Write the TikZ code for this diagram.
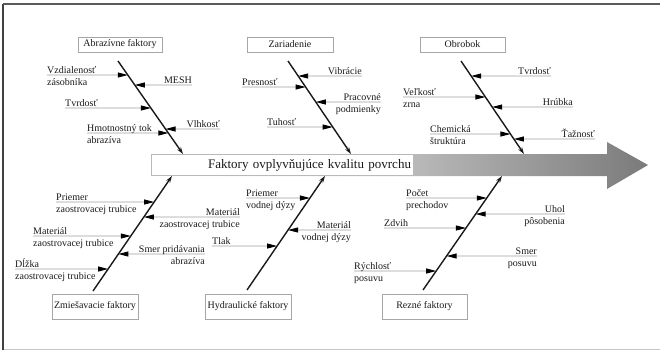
\documentclass[tikz,border=0pt]{standalone}
\usepackage{fontspec}
\setmainfont{Liberation Serif}
\usetikzlibrary{arrows.meta,calc}

\tikzset{
  catbox/.style={draw=gray!70, line width=0.8pt, fill=white, inner sep=0pt,
    font=\fontsize{10}{11}\selectfont, text=black!90},
  spine/.style={line width=1.4pt, black!90, -{Stealth[length=7pt,width=4.5pt]}},
  rib/.style={gray!75, line width=0.9pt, -{Triangle[length=10pt,width=5pt,color=black]}},
  lbl/.style={font=\fontsize{10}{11}\selectfont, inner sep=0pt, text=black!90},
}

% horizontal cause line ending on a spine #4 (coordinates #4T, #4B)
\newcommand\ribline[4]{%
  \coordinate (#1) at (#2,#3);
  \coordinate (#1h) at ({#2+10},#3);
  \draw[rib] (#1) -- (intersection of #4T--#4B and #1--#1h);
}
% cause coming from the left: #1 name, #2 spine, #3 x, #4 y, #5 upper text, #6 lower text
\newcommand\causeL[6]{%
  \ribline{#1}{#3}{#4}{#2}
  \node[lbl, anchor=base west] (#1u) at (#3,{#4-2}) {#5};
  \if\relax\detokenize{#6}\relax\else
    \node[lbl, anchor=base west] (#1l) at (#3,{#4+10}) {#6};\fi
}
% cause coming from the right
\newcommand\causeR[6]{%
  \ribline{#1}{#3}{#4}{#2}
  \node[lbl, anchor=base east] (#1u) at (#3,{#4-2}) {#5};
  \if\relax\detokenize{#6}\relax\else
    \node[lbl, anchor=base east] (#1l) at (#3,{#4+10}) {#6};\fi
}

\begin{document}
\begin{tikzpicture}[x=1pt,y=-1pt]
\useasboundingbox (0,0) rectangle (660,351);

% frame
\draw[gray!45, line width=0.8pt] (3,349.5) -- (662,349.5);
\draw[black!75, line width=1.2pt] (3,350) -- (3,4);
\draw[black!65, line width=1.6pt] (3,4) -- (662,4);

% main effect arrow
\shade[left color=white, middle color=black!20, right color=black!52]
  (150,154) -- (607,154) -- (607,142) -- (648,165) -- (607,189) -- (607,176) -- (150,176) -- cycle;
\node[draw=gray!55, line width=0.6pt, fill=white, minimum width=262pt, minimum height=21pt,
      inner sep=0pt, text width=258pt, align=right,
      font=\fontsize{13}{14}\selectfont, text=black!90] (effect) at (282,165)
  {Faktory ovplyvňujúce kvalitu povrchu};

% category boxes
\node[catbox, minimum width=84pt, minimum height=15pt] (abr) at (120,44.5) {Abrazívne faktory};
\node[catbox, minimum width=86pt, minimum height=15pt] (zar) at (290,44.5) {Zariadenie};
\node[catbox, minimum width=85pt, minimum height=15pt] (obr) at (462.5,44.5) {Obrobok};
\node[catbox, minimum width=86pt, minimum height=25pt] (zmi) at (95,306.5) {Zmiešavacie faktory};
\node[catbox, minimum width=86pt, minimum height=25pt] (hyd) at (248,306.5) {Hydraulické faktory};
\node[catbox, minimum width=85pt, minimum height=25pt] (rez) at (424.5,306.5) {Rezné faktory};

% spines
\coordinate (aT) at (118,61);  \coordinate (aB) at (183,154);
\coordinate (zT) at (288,61);  \coordinate (zB) at (351,154);
\coordinate (oT) at (461,61);  \coordinate (oB) at (524,154);
\coordinate (mB) at (93,291);  \coordinate (mT) at (172,176);
\coordinate (hB) at (247,290); \coordinate (hT) at (325,176);
\coordinate (rB) at (423,290); \coordinate (rT) at (502,176);
\draw[spine] (aT) -- (aB);
\draw[spine] (zT) -- (zB);
\draw[spine] (oT) -- (oB);
\draw[spine] (mB) -- (mT);
\draw[spine] (hB) -- (hT);
\draw[spine] (rB) -- (rT);

% abrasive factors
\causeL{a1}{a}{47}{75}{Vzdialenosť}{zásobníka}
\causeR{a2}{a}{192}{85}{MESH}{}
\causeL{a3}{a}{65}{108}{Tvrdosť}{}
\causeR{a4}{a}{220}{129}{Vlhkosť}{}
\causeL{a5}{a}{87}{133}{Hmotnostný tok}{abrazíva}

% equipment
\causeR{z1}{z}{362}{76}{Vibrácie}{}
\causeL{z2}{z}{242}{87}{Presnosť}{}
\causeR{z3}{z}{381}{102}{Pracovné}{podmienky}
\causeL{z4}{z}{267}{127}{Tuhosť}{}

% workpiece
\causeR{o1}{o}{551}{76}{Tvrdosť}{}
\causeL{o2}{o}{403}{97}{Veľkosť}{zrna}
\causeR{o3}{o}{573}{107}{Hrúbka}{}
\causeL{o4}{o}{430}{134}{Chemická}{štruktúra}
\causeR{o5}{o}{595}{139}{Ťažnosť}{}

% mixing factors
\causeL{m1}{m}{56}{202}{Priemer}{zaostrovacej trubice}
\causeR{m2}{m}{240}{217}{Materiál}{zaostrovacej trubice}
\causeL{m3}{m}{33}{236}{Materiál}{zaostrovacej trubice}
\causeR{m4}{m}{205}{254}{Smer pridávania}{abrazíva}
\causeL{m5}{m}{15}{269}{Dĺžka}{zaostrovacej trubice}

% hydraulic factors
\causeL{h1}{h}{246}{198}{Priemer}{vodnej dýzy}
\causeR{h2}{h}{351}{230}{Materiál}{vodnej dýzy}
\causeL{h3}{h}{212}{246}{Tlak}{}

% cutting factors
\causeL{r1}{r}{406}{198}{Počet}{prechodov}
\causeR{r2}{r}{565}{214}{Uhol}{pôsobenia}
\causeL{r3}{r}{384}{228}{Zdvih}{}
\causeR{r4}{r}{537}{256}{Smer}{posuvu}
\causeL{r5}{r}{354}{271}{Rýchlosť}{posuvu}
\end{tikzpicture}
\end{document}
